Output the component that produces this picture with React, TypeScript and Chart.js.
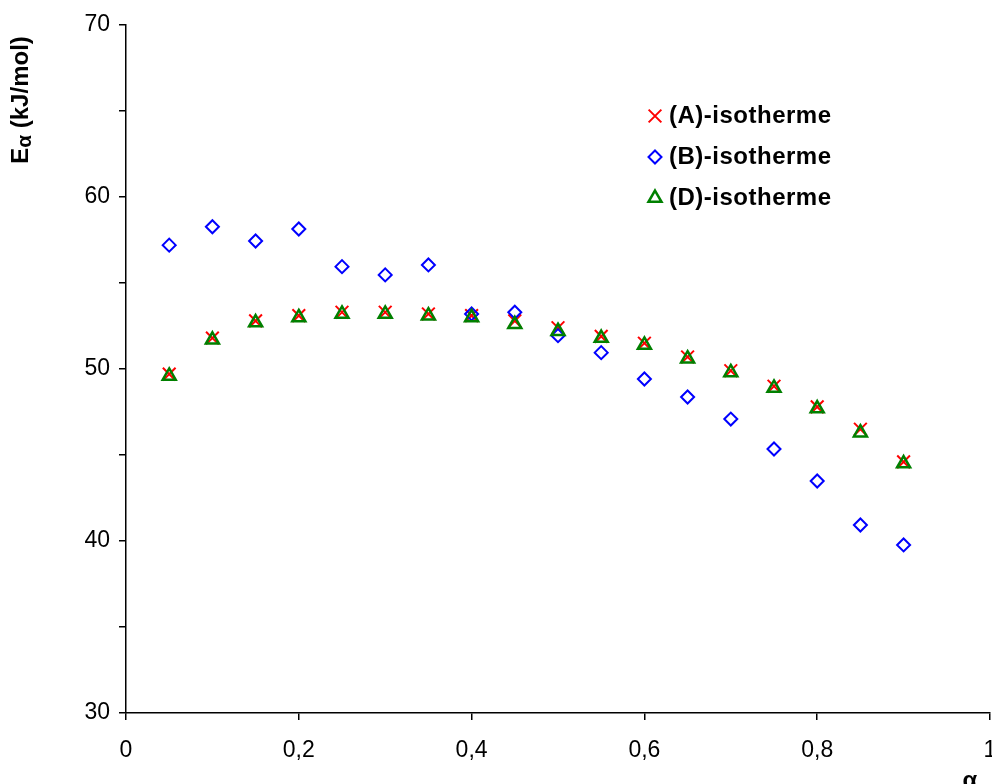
import React, { useEffect, useRef } from "react";
import { Chart, registerables } from "chart.js";

Chart.register(...registerables);

const alphaValues = [0.05, 0.1, 0.15, 0.2, 0.25, 0.3, 0.35, 0.4, 0.45, 0.5, 0.55, 0.6, 0.65, 0.7, 0.75, 0.8, 0.85, 0.9];
const seriesA = [49.7, 51.8, 52.8, 53.1, 53.3, 53.3, 53.2, 53.1, 52.8, 52.4, 51.9, 51.5, 50.7, 49.9, 49.0, 47.8, 46.5, 44.6];
const seriesB = [57.2, 58.27, 57.44, 58.14, 55.95, 55.47, 56.05, 53.2, 53.3, 51.94, 50.95, 49.42, 48.37, 47.09, 45.35, 43.49, 40.93, 39.77];
const seriesD = [49.6, 51.7, 52.7, 53.0, 53.2, 53.2, 53.1, 53.0, 52.6, 52.2, 51.8, 51.4, 50.6, 49.8, 48.9, 47.7, 46.3, 44.5];
const seriesNames = ["(A)-isotherme", "(B)-isotherme", "(D)-isotherme"];
const yTitleMain = "E";
const yTitleSub = "α";
const yTitleRest = " (kJ/mol)";
const xTitle = "α";

const FONT = '"Liberation Sans", Arial, sans-serif';
const TICK_FONT_SIZE = 23;
const X_TICK_PADDING = 17;

const toPoints = (ys: number[]) => alphaValues.map((x, i) => ({ x, y: ys[i] }));

const styles = [
  { style: "crossRot", color: "#ff0000", radius: 9, width: 2 },
  { style: "rectRot", color: "#0000ff", radius: 6.5, width: 2 },
  { style: "triangle", color: "#008000", radius: 7.5, width: 2.5 },
];

function drawMarker(ctx: CanvasRenderingContext2D, style: string, r: number, x: number, y: number) {
  ctx.beginPath();
  if (style === "crossRot") {
    const o = Math.SQRT1_2 * r;
    ctx.moveTo(x - o, y - o);
    ctx.lineTo(x + o, y + o);
    ctx.moveTo(x - o, y + o);
    ctx.lineTo(x + o, y - o);
  } else if (style === "rectRot") {
    ctx.moveTo(x, y - r);
    ctx.lineTo(x + r, y);
    ctx.lineTo(x, y + r);
    ctx.lineTo(x - r, y);
    ctx.closePath();
  } else {
    const a = (2 * Math.PI) / 3;
    ctx.moveTo(x, y - r);
    ctx.lineTo(x + Math.sin(a) * r, y - Math.cos(a) * r);
    ctx.lineTo(x + Math.sin(2 * a) * r, y - Math.cos(2 * a) * r);
    ctx.closePath();
  }
  ctx.stroke();
}

const overlayPlugin = {
  id: "overlay",
  afterDraw(chart: any) {
    const ctx = chart.ctx as CanvasRenderingContext2D;

    // Y title
    ctx.save();
    ctx.translate(21, 100);
    ctx.rotate(-Math.PI / 2);
    ctx.fillStyle = "#000";
    ctx.textBaseline = "middle";
    ctx.font = `bold 24px ${FONT}`;
    const wE = ctx.measureText(yTitleMain).width;
    ctx.font = `bold 21px ${FONT}`;
    const wA = ctx.measureText(yTitleSub).width;
    ctx.font = `bold 24px ${FONT}`;
    const wR = ctx.measureText(yTitleRest).width;
    const x0 = -(wE + wA + wR) / 2;
    ctx.textAlign = "left";
    ctx.fillText(yTitleMain, x0, 0);
    ctx.font = `bold 21px ${FONT}`;
    ctx.fillText(yTitleSub, x0 + wE, 4);
    ctx.font = `bold 24px ${FONT}`;
    ctx.fillText(yTitleRest, x0 + wE + wA, 0);
    ctx.restore();

    // X title
    ctx.save();
    ctx.fillStyle = "#000";
    ctx.font = `bold 24px ${FONT}`;
    ctx.textAlign = "center";
    ctx.textBaseline = "alphabetic";
    ctx.fillText(xTitle, 970, 788);
    ctx.restore();

    // Legend
    const rows = [116, 157, 198];
    ctx.save();
    rows.forEach((y, i) => {
      const s = styles[i];
      ctx.strokeStyle = s.color;
      ctx.lineWidth = s.width;
      drawMarker(ctx, s.style, s.radius, 655, y);
      ctx.fillStyle = "#000";
      ctx.font = `bold 24px ${FONT}`;
      (ctx as any).letterSpacing = "0.5px";
      ctx.textAlign = "left";
      ctx.textBaseline = "middle";
      ctx.fillText(seriesNames[i], 669, y);
    });
    ctx.restore();
  },
};

export default function App() {
  const ref = useRef<HTMLCanvasElement>(null);
  useEffect(() => {
    if (!ref.current) return;
    const data = [seriesA, seriesB, seriesD];
    const orders = [3, 2, 1];
    const chart = new Chart(ref.current, {
      type: "scatter",
      data: {
        datasets: data.map((d, i) => ({
          label: seriesNames[i],
          data: toPoints(d),
          pointStyle: styles[i].style as any,
          pointRadius: styles[i].radius,
          pointBorderColor: styles[i].color,
          pointBackgroundColor: "rgba(0,0,0,0)",
          pointBorderWidth: styles[i].width,
          showLine: false,
          order: orders[i],
        })),
      },
      options: {
        responsive: false,
        animation: false,
        layout: { autoPadding: false, padding: { top: 25, right: 2, left: 0, bottom: 0 } },
        plugins: { legend: { display: false }, tooltip: { enabled: false } },
        scales: {
          x: {
            type: "linear",
            min: 0,
            max: 1,
            ticks: {
              stepSize: 0.2,
              color: "#000",
              font: { family: FONT, size: TICK_FONT_SIZE },
              padding: X_TICK_PADDING,
              maxRotation: 0,
              autoSkip: false,
              callback: (v: any) => {
                const n = Number(v);
                if (Math.abs(n) < 1e-9) return "0";
                if (Math.abs(n - 1) < 1e-9) return "1";
                return n.toFixed(1).replace(".", ",");
              },
            },
            grid: { drawOnChartArea: false, drawTicks: true, tickLength: 7, color: "#000", lineWidth: 1.5 },
            border: { display: true, color: "#000", width: 1.5 },
            afterFit: (s: any) => {
              s.height = 71;
              s.paddingLeft = 0;
              s.paddingRight = 0;
            },
          },
          y: {
            type: "linear",
            min: 30,
            max: 70,
            ticks: {
              stepSize: 5,
              color: "#000",
              font: { family: FONT, size: TICK_FONT_SIZE },
              padding: 9,
              autoSkip: false,
              callback: (v: any) => (Number(v) % 10 === 0 ? String(v) : ""),
            },
            grid: { drawOnChartArea: false, drawTicks: true, tickLength: 7, color: "#000", lineWidth: 1.5 },
            border: { display: true, color: "#000", width: 1.5 },
            afterFit: (s: any) => {
              s.width = 126;
              s.paddingTop = 0;
              s.paddingBottom = 0;
            },
          },
        },
      },
      plugins: [overlayPlugin],
    });
    return () => chart.destroy();
  }, []);
  return (
    <div style={{ position: "fixed", left: 0, top: 0, width: 992, height: 784, background: "#fff" }}>
      <canvas ref={ref} width={992} height={784} style={{ width: 992, height: 784, display: "block" }} />
    </div>
  );
}
